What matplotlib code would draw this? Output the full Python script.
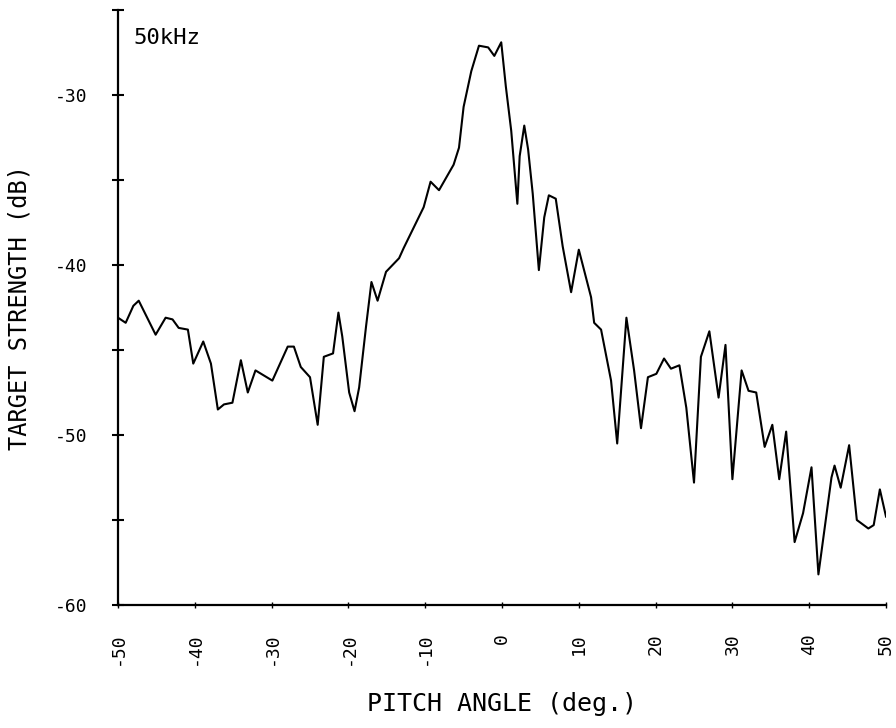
import matplotlib
matplotlib.use("Agg")
import matplotlib.pyplot as plt

pitch_deg = [-50.0, -49.0, -48.0, -47.3, -45.1, -43.8, -42.9, -42.1, -40.9, -40.2,
             -38.9, -37.9, -37.0, -36.2, -35.1, -34.0, -33.1, -32.1, -29.9, -27.9,
             -27.1, -26.2, -25.0, -24.0, -23.2, -22.0, -21.3, -20.8, -19.9, -19.2,
             -18.6, -17.7, -17.0, -16.2, -15.1, -13.4, -12.8, -10.2, -9.3, -8.2,
             -6.3, -5.6, -5.0, -4.0, -3.0, -1.8, -1.0, -0.1, 0.5, 1.2,
             2.0, 2.3, 2.9, 3.4, 4.0, 4.8, 5.5, 6.1, 7.0, 7.9,
             9.0, 10.0, 11.6, 12.0, 12.9, 14.2, 15.0, 16.2, 17.2, 18.1,
             19.0, 20.1, 21.1, 22.0, 23.1, 24.0, 25.0, 25.9, 27.0, 28.2,
             29.1, 30.0, 31.2, 32.1, 33.1, 34.2, 35.2, 36.1, 37.0, 38.1,
             39.2, 40.3, 41.2, 42.9, 43.3, 44.1, 45.2, 46.2, 47.7, 48.4,
             49.2, 50.0]
ts_db = [-43.1, -43.4, -42.4, -42.1, -44.1, -43.1, -43.2, -43.7, -43.8, -45.8,
         -44.5, -45.8, -48.5, -48.2, -48.1, -45.6, -47.5, -46.2, -46.8, -44.8,
         -44.8, -46.0, -46.6, -49.4, -45.4, -45.2, -42.8, -44.2, -47.5, -48.6,
         -47.2, -43.6, -41.0, -42.1, -40.4, -39.6, -39.0, -36.6, -35.1, -35.6,
         -34.1, -33.1, -30.7, -28.6, -27.1, -27.2, -27.7, -26.9, -29.5, -32.1,
         -36.4, -33.6, -31.8, -33.2, -35.8, -40.3, -37.2, -35.9, -36.1, -38.9,
         -41.6, -39.1, -41.9, -43.4, -43.8, -46.8, -50.5, -43.1, -46.2, -49.6,
         -46.6, -46.4, -45.5, -46.1, -45.9, -48.4, -52.8, -45.4, -43.9, -47.8,
         -44.7, -52.6, -46.2, -47.4, -47.5, -50.7, -49.4, -52.6, -49.8, -56.3,
         -54.6, -51.9, -58.2, -52.5, -51.8, -53.1, -50.6, -55.0, -55.5, -55.3,
         -53.2, -54.8]

x_ticks = [-50, -40, -30, -20, -10, 0, 10, 20, 30, 40, 50]
x_tick_labels = ["-50", "-40", "-30", "-20", "-10", "0", "10", "20", "30", "40", "50"]
y_ticks = [-60, -55, -50, -45, -40, -35, -30, -25]
y_tick_labels = ["-60", "", "-50", "", "-40", "", "-30", ""]

plt.rcParams['font.family'] = ['DejaVu Sans Mono']

fig = plt.figure(figsize=(8.96, 7.28), dpi=100)
ax = fig.add_axes([118/896, 1-605/728, (886-118)/896, (605-10)/728])
ax.plot(pitch_deg, ts_db, color='black', lw=1.5)
ax.set_xlim(-50, 50)
ax.set_ylim(-60, -25)
for s in ['top', 'right']:
    ax.spines[s].set_visible(False)
for s in ['left', 'bottom']:
    ax.spines[s].set_linewidth(1.6)
ax.set_xticks(x_ticks)
ax.set_xticklabels(x_tick_labels, rotation=90, fontsize=13)
ax.set_yticks(y_ticks)
ax.set_yticklabels(y_tick_labels, fontsize=13)
ax.tick_params(axis='y', direction='inout', length=8, width=1.5, pad=18)
ax.tick_params(axis='x', direction='inout', length=4, width=1, pad=18)
ax.set_xlabel("PITCH ANGLE (deg.)", fontsize=18, labelpad=19)
ax.set_ylabel("TARGET STRENGTH (dB)", fontsize=17, labelpad=17)
ax.text(0.02, 0.97, "50kHz", transform=ax.transAxes, fontsize=16, va='top', ha='left')

fig.savefig("out.png", dpi=100)
